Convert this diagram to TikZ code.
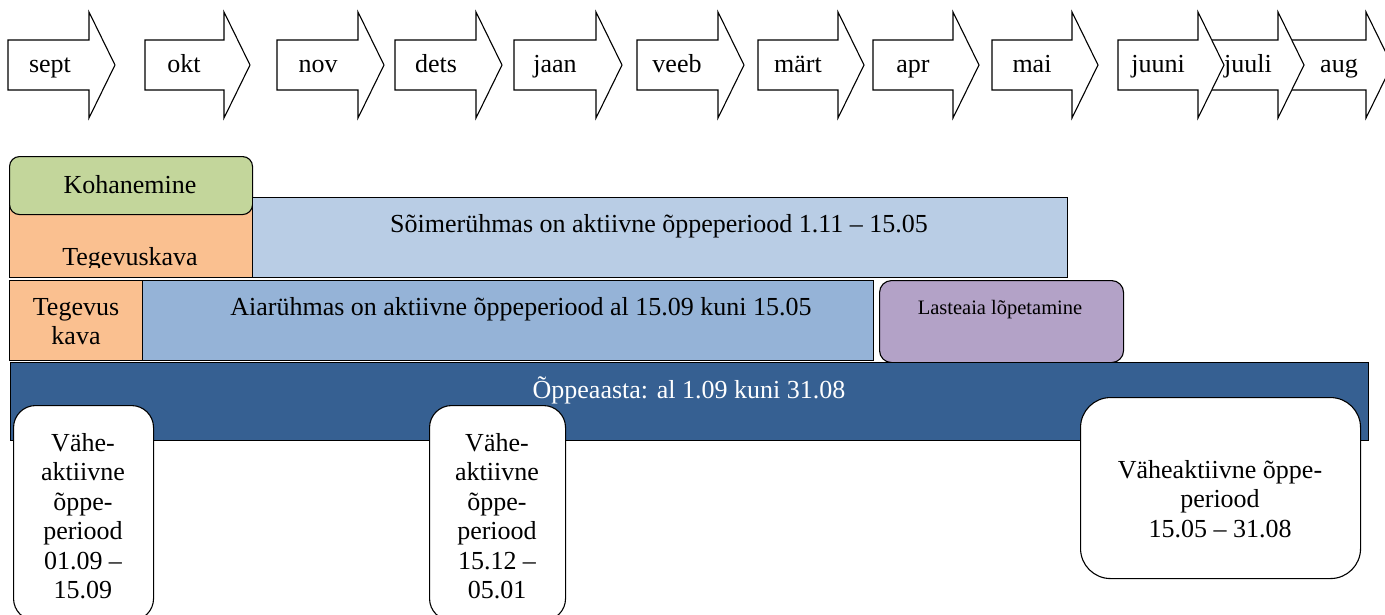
\documentclass[tikz,border=0pt]{standalone}
\usepackage{fontspec}
\setmainfont{Liberation Serif}
\definecolor{cgreen}{HTML}{C3D69B}
\definecolor{corange}{HTML}{FAC090}
\definecolor{clblue}{HTML}{B9CDE5}
\definecolor{cmblue}{HTML}{95B3D7}
\definecolor{cpurple}{HTML}{B3A2C7}
\definecolor{cdblue}{HTML}{366092}
\begin{document}
\begin{tikzpicture}[x=1pt,y=-1pt,
  outl/.style={draw=black,line width=1.1pt},
  arrowbox/.style={outl,fill=white,line join=miter},
  mlabel/.style={font=\fontsize{26}{30}\selectfont,anchor=base,inner sep=0pt},
  lbl/.style={font=\fontsize{26}{30}\selectfont,anchor=base,inner sep=0pt},
  blk/.style={outl,anchor=north west,inner sep=0pt},
  pill/.style={draw=black,line width=1.1pt,fill=white,anchor=north west,inner sep=0pt},
  ptext/.style={font=\fontsize{26}{29.5}\selectfont,align=center,anchor=north,inner sep=0pt}]
\useasboundingbox (0,0) rectangle (1385,614);
% month arrows, drawn right to left so earlier ones lie on top
\foreach \l/\b/\c/\t/\n in {1290/1366/1339/aug/m12,1200/1278/1248/juuli/m11,1118/1198/1158/juuni/m10,992/1072/1032/mai/m9,873/953/913/apr/m8,758/838/798/märt/m7,637/718/677/veeb/m6,514/596/555/jaan/m5,395/476/436/dets/m4,277/358/318/nov/m3,145/224/184/okt/m2,8/89/50/sept/m1}{
  \draw[arrowbox] (\l,40) -- (\b,40) -- (\b,12) -- (\b+26,65) -- (\b,118) -- (\b,90) -- (\l,90) -- cycle;
  \node[mlabel] (\n) at (\c,72) {\t};
}
% Tegevuskava (top)
\node[blk,fill=corange,minimum width=243pt,minimum height=80pt] (tk1) at (9,197) {};
\begin{scope}
\clip (9,197) rectangle (252,267);
\node[lbl] (tk1t) at (130,265) {Tegevuskava};
\end{scope}
\node[blk,fill=cgreen,rounded corners=10pt,minimum width=243pt,minimum height=58pt] (koh) at (9,156) {};
\node[lbl] (koht) at (130,193) {Kohanemine};
% Soimeruhmas
\node[blk,fill=clblue,minimum width=815pt,minimum height=80pt] (soim) at (252,197) {};
\node[lbl] (soimt) at (659,232) {Sõimerühmas on aktiivne õppeperiood 1.11 – 15.05};
% row 2
\node[blk,fill=corange,minimum width=133pt,minimum height=80pt] (tk2) at (9,280) {};
\node[lbl] (tk2a) at (76,315) {Tegevus};
\node[lbl] (tk2b) at (76,344) {kava};
\node[blk,fill=cmblue,minimum width=731pt,minimum height=80pt] (aia) at (142,280) {};
\node[lbl] (aiat) at (521,315) {Aiarühmas on aktiivne õppeperiood al 15.09 kuni 15.05};
\node[blk,fill=cpurple,rounded corners=12pt,minimum width=244pt,minimum height=82pt] (lop) at (879,280) {};
\node[lbl,font=\fontsize{20.5}{24}\selectfont] (lopt) at (1000,314) {Lasteaia lõpetamine};
% Oppeaasta
\node[blk,fill=cdblue,minimum width=1358pt,minimum height=78pt] (oa) at (10,362) {};
\node[lbl,text=white] (oat) at (689,398) {Õppeaasta: al 1.09 kuni 31.08};
% low-activity periods
\node[pill,rounded corners=22pt,minimum width=140pt,minimum height=215pt] (v1) at (13,405) {};
\node[ptext] (v1t) at (83,433) {Vähe-\\aktiivne\\õppe-\\periood\\01.09 –\\15.09};
\node[pill,rounded corners=22pt,minimum width=136pt,minimum height=215pt] (v2) at (429,405) {};
\node[ptext] (v2t) at (497,433) {Vähe-\\aktiivne\\õppe-\\periood\\15.12 –\\05.01};
\node[pill,rounded corners=30pt,minimum width=280pt,minimum height=181pt] (v3) at (1080,397) {};
\node[ptext] (v3t) at (1220,460) {Väheaktiivne õppe-\\periood\\15.05 – 31.08};
\end{tikzpicture}
\end{document}
